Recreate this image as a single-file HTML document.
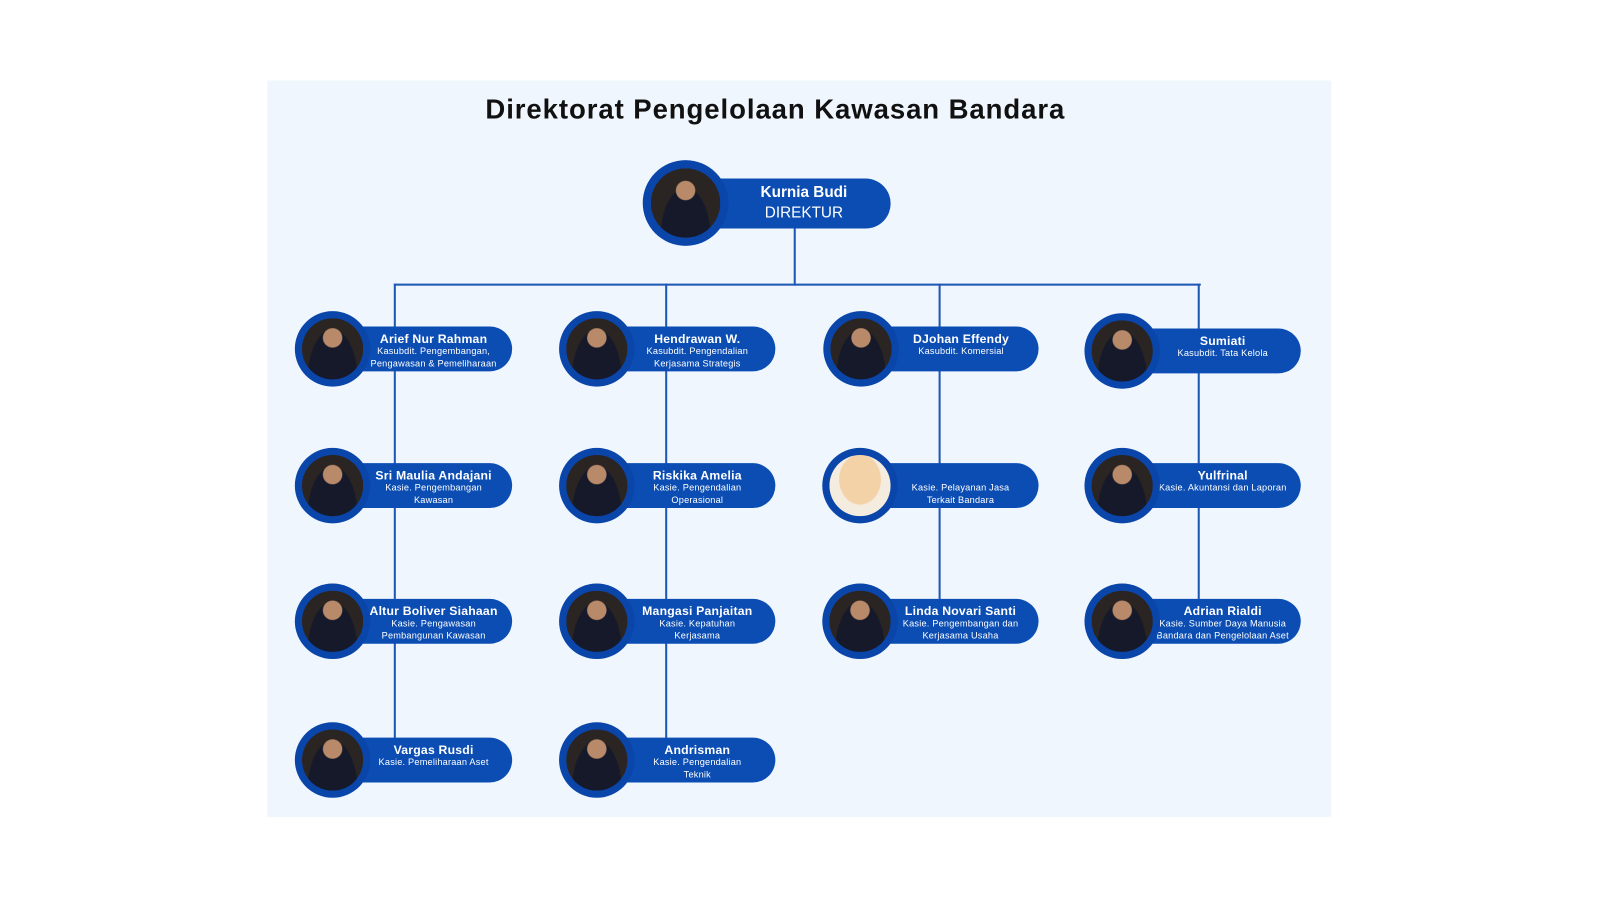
<!DOCTYPE html>
<html><head><meta charset="utf-8"><style>
body{margin:0;width:1600px;height:900px;background:#fff;position:relative;overflow:hidden;font-family:"Liberation Sans",sans-serif}
#w{position:absolute;left:0;top:0;width:1600px;height:900px;transform:scale(1.0202);transform-origin:0 0}
.panel{position:absolute;left:262px;top:79px;width:1043px;height:722px;background:#eff6fd}
h1{position:absolute;left:260px;width:1000px;top:92px;margin:0;text-align:center;font-size:27px;font-weight:bold;color:#111;letter-spacing:0.9px}
.l{position:absolute;background:#1d58b5}
.pill{position:absolute;height:44px;background:#0b4db3;border-radius:22px;color:#fff;text-align:center}
.c{position:absolute;width:74px;height:74px;border-radius:50%;background:#0a45aa}
.c i{position:absolute;left:7px;top:7px;width:60px;height:60px;border-radius:50%;background:radial-gradient(circle at 50% 32%,#b98a6a 0 9px,transparent 10px),radial-gradient(ellipse at 50% 100%,#15192a 0 24px,transparent 25px),#2a2522}
.c i.b{background:radial-gradient(ellipse at 50% 40%,#f3d2a8 0 20px,transparent 21px),#f5ece0}
.t{position:absolute;top:0;width:150px;}
.n{font-weight:bold;font-size:12px;margin-top:5px;line-height:14px;letter-spacing:0.2px}
.s{font-size:9px;line-height:11.5px;letter-spacing:0.2px}
</style></head><body><div id="w">
<div class="panel"></div>
<h1>Direktorat Pengelolaan Kawasan Bandara</h1>
<div class="l" style="left:778px;top:222px;width:2px;height:58px"></div>
<div class="l" style="left:386px;top:278px;width:791px;height:2px"></div>
<div class="l" style="left:386px;top:278px;width:2px;height:467px"></div>
<div class="l" style="left:652px;top:278px;width:2px;height:467px"></div>
<div class="l" style="left:920px;top:278px;width:2px;height:331px"></div>
<div class="l" style="left:1174px;top:278px;width:2px;height:331px"></div>

<div class="pill" style="left:680px;top:175px;width:193px;height:49px;border-radius:25px">
<div style="position:absolute;left:33px;width:150px;top:5px;font-weight:bold;font-size:15px">Kurnia Budi</div>
<div style="position:absolute;left:33px;width:150px;top:25px;font-size:15px">DIREKTUR</div></div>
<div class="c" style="left:630px;top:157px;width:84px;height:84px"><i style="width:68px;height:68px;left:8px;top:8px"></i></div>

<div id="nodes"></div>
</div>
<script>
var N=[
[326,342,502,"Arief Nur Rahman","Kasubdit. Pengembangan,<br>Pengawasan &amp; Pemeliharaan"],
[585,342,760,"Hendrawan W.","Kasubdit. Pengendalian<br>Kerjasama Strategis"],
[844,342,1018,"DJohan Effendy","Kasubdit. Komersial"],
[1100,344,1275,"Sumiati","Kasubdit. Tata Kelola"],
[326,476,502,"Sri Maulia Andajani","Kasie. Pengembangan<br>Kawasan"],
[585,476,760,"Riskika Amelia","Kasie. Pengendalian<br>Operasional"],
[843,476,1018,"&nbsp;","Kasie. Pelayanan Jasa<br>Terkait Bandara",1],
[1100,476,1275,"Yulfrinal","Kasie. Akuntansi dan Laporan"],
[326,609,502,"Altur Boliver Siahaan","Kasie. Pengawasan<br>Pembangunan Kawasan"],
[585,609,760,"Mangasi Panjaitan","Kasie. Kepatuhan<br>Kerjasama"],
[843,609,1018,"Linda Novari Santi","Kasie. Pengembangan dan<br>Kerjasama Usaha"],
[1100,609,1275,"Adrian Rialdi","Kasie. Sumber Daya Manusia<br>Bandara dan Pengelolaan Aset"],
[326,745,502,"Vargas Rusdi","Kasie. Pemeliharaan Aset"],
[585,745,760,"Andrisman","Kasie. Pengendalian<br>Teknik"]];
var h="";
N.forEach(function(a){
var w=a[2]-a[0];
h+='<div class="pill" style="left:'+a[0]+'px;top:'+(a[1]-22)+'px;width:'+w+'px"><div class="t" style="left:'+(w/2-64)+'px"><div class="n">'+a[3]+'</div><div class="s">'+a[4]+'</div></div></div>';
h+='<div class="c" style="left:'+(a[0]-37)+'px;top:'+(a[1]-37)+'px"><i'+(a[5]?' class="b"':'')+'></i></div>';
});
document.getElementById("nodes").innerHTML=h;
</script>
</body></html>
